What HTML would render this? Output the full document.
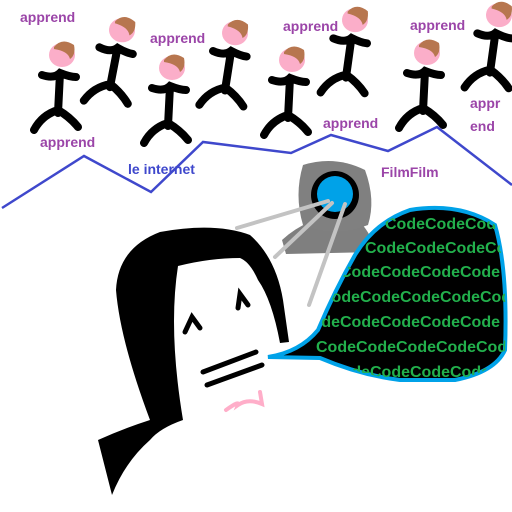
<!DOCTYPE html>
<html><head><meta charset="utf-8"><style>
html,body{margin:0;padding:0;background:#fff}
svg{display:block}
.t{font-family:"Liberation Sans",sans-serif;font-weight:bold;font-size:14px;fill:#9b45a8}
.c{font-family:"Liberation Sans",sans-serif;font-weight:bold;font-size:16px;fill:#22b04c}
</style></head><body>
<svg width="512" height="512" viewBox="0 0 512 512">
<defs>
<g id="fig">
  <path d="M0,18 L-2,58 M-18,20 Q-6,24 0,18 Q10,22 16,22 M-2,55 Q-18,60 -26,75 M-2,55 Q10,62 18,72" stroke="#000" stroke-width="8" fill="none" stroke-linecap="round"/>
  <ellipse cx="2" cy="0" rx="13" ry="12" fill="#fbaec9"/>
  <path d="M-6,-8 Q2,-18 14,-10 Q16,0 10,4 Q8,-4 -6,-6 Z" fill="#b7764f"/>
</g>
<clipPath id="bub"><path d="M268,357 Q300,352 318,330 Q335,290 355,255 Q375,222 410,210 Q460,202 495,225 Q508,270 505,350 Q495,372 455,380 L400,380 Q360,375 320,358 Z"/></clipPath>
</defs>
<g>
<use href="#fig" transform="translate(60,55)"/>
<use href="#fig" transform="translate(120,30) rotate(8)"/>
<use href="#fig" transform="translate(170,68)"/>
<use href="#fig" transform="translate(233,33) rotate(6)"/>
<use href="#fig" transform="translate(290,60)"/>
<use href="#fig" transform="translate(353,20) rotate(5)"/>
<use href="#fig" transform="translate(425,53)"/>
<use href="#fig" transform="translate(497,15) rotate(5)"/>
</g>
<g>
<text class="t" x="20" y="22">apprend</text>
<text class="t" x="40" y="147">apprend</text>
<text class="t" x="150" y="43">apprend</text>
<text class="t" x="283" y="31">apprend</text>
<text class="t" x="323" y="128">apprend</text>
<text class="t" x="410" y="30">apprend</text>
<text class="t" x="470" y="108">appr</text>
<text class="t" x="470" y="131">end</text>
</g>
<polyline points="2,208 84,156 151,192 203,142 291,153 331,135 388,151 437,127 512,185" fill="none" stroke="#3f48cc" stroke-width="2.5"/>
<text x="128" y="174" class="t" style="fill:#3f48cc">le internet</text>
<text x="381" y="177" class="t">FilmFilm</text>
<g>
<path d="M282,240 Q295,228 310,222 L360,222 Q372,235 376,252 L286,254 Z" fill="#7f7f7f"/>
<path d="M303,165 Q335,155 365,170 Q376,200 368,225 Q335,238 303,225 Q294,195 303,165 Z" fill="#808080"/>
<circle cx="335" cy="195" r="24" fill="#000"/>
<circle cx="335" cy="194" r="18" fill="#00a2e8"/>
</g>
<g stroke="#c3c3c3" stroke-width="4" stroke-linecap="round">
<line x1="328" y1="201" x2="237" y2="228"/>
<line x1="332" y1="203" x2="275" y2="257"/>
<line x1="345" y1="204" x2="309" y2="305"/>
</g>
<g>
<path d="M112,495 L98,440 Q125,428 150,420 Q120,340 116,290 Q118,248 160,232 Q215,222 250,235 Q276,258 283,300 L289,342 L280,343 Q272,300 258,280 Q250,262 240,258 Q210,258 178,266 Q168,330 183,420 Q160,428 150,440 Q125,462 112,495 Z" fill="#000"/>
<path d="M185,332 L192,317 L200,328 M238,308 L240,294 L248,305" stroke="#000" stroke-width="5" fill="none" stroke-linecap="round"/>
<path d="M203,372 L256,352 M207,385 L262,365" stroke="#000" stroke-width="5" stroke-linecap="round"/>
<path d="M226,410 Q240,400 238,405 Q248,398 262,404 L260,392" stroke="#ffaec9" stroke-width="4" fill="none" stroke-linecap="round"/>
</g>
<g>
<path d="M268,357 Q300,352 318,330 Q335,290 355,255 Q375,222 410,210 Q460,202 495,225 Q508,270 505,350 Q495,372 455,380 L400,380 Q360,375 320,358 Z" fill="#000" stroke="#00a2e8" stroke-width="4"/>
<g clip-path="url(#bub)">
<text class="c" x="385" y="229">CodeCodeCodeCode</text>
<text class="c" x="365" y="253">CodeCodeCodeCode</text>
<text class="c" x="340" y="277">CodeCodeCodeCode</text>
<text class="c" x="320" y="302">CodeCodeCodeCodeCode</text>
<text class="c" x="300" y="327">CodeCodeCodeCodeCode</text>
<text class="c" x="316" y="352">CodeCodeCodeCodeCode</text>
<text class="c" x="330" y="377">CodeCodeCodeCodeCode</text>
</g>
</g>
</svg>
</body></html>
